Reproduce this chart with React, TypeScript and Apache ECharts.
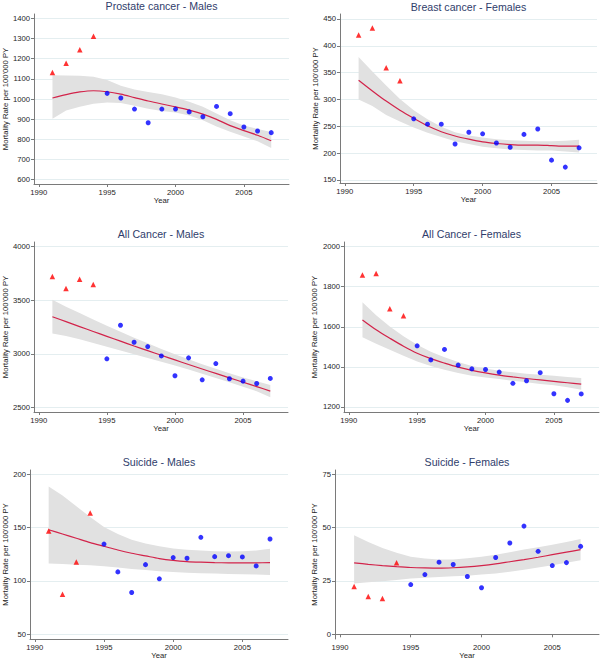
import React, { useEffect, useRef } from "react";
import * as echarts from "echarts";

const years = [1991, 1992, 1993, 1994, 1995, 1996, 1997, 1998, 1999, 2000, 2001, 2002, 2003, 2004, 2005, 2006, 2007];
const xTicks = [1990, 1995, 2000, 2005];

// Prostate cancer - Males
const prostateObs = [1131, 1177, 1245, 1312, 1028, 1005, 950, 882, 950, 950, 936, 912, 963, 927, 861, 841, 833];
const prostateFit = [1005, 1022, 1035, 1041, 1036, 1024, 1007, 990, 975, 961, 945, 925, 899, 868, 843, 820, 793];
const prostateHi = [1118, 1117, 1116, 1111, 1094, 1066, 1047, 1035, 1023, 1008, 986, 961, 928, 895, 869, 851, 836];
const prostateLo = [902, 943, 962, 976, 983, 980, 967, 951, 940, 933, 918, 894, 864, 838, 814, 790, 757];
const prostateTicks = [600, 700, 800, 900, 1000, 1100, 1200, 1300, 1400];

// Breast cancer - Females
const breastObs = [420, 433, 359, 335, 264, 254, 254, 217, 239, 236, 219, 211, 235, 245, 187, 174, 210];
const breastFit = [336, 316, 297, 280, 265, 251, 240, 232, 226, 221, 218, 216, 215, 215, 214, 213, 213];
const breastHi = [379, 352, 326, 301, 280, 263, 249, 239, 233, 229, 226, 224, 223, 222, 222, 223, 225];
const breastLo = [300, 288, 271, 259, 248, 238, 230, 222, 217, 212, 209, 207, 206, 205, 205, 203, 201];
const breastTicks = [150, 200, 250, 300, 350, 400, 450];

// All Cancer - Males
const allMObs = [3721, 3610, 3696, 3647, 2953, 3266, 3108, 3067, 2980, 2795, 2962, 2757, 2909, 2767, 2745, 2723, 2770];
const allMFit = [3346, 3300, 3254, 3208, 3163, 3118, 3073, 3029, 2986, 2943, 2900, 2858, 2817, 2776, 2735, 2694, 2652];
const allMHi = [3505, 3440, 3380, 3320, 3262, 3205, 3150, 3098, 3045, 2995, 2948, 2903, 2860, 2818, 2778, 2745, 2710];
const allMLo = [3190, 3165, 3135, 3100, 3065, 3030, 2995, 2960, 2925, 2890, 2853, 2815, 2775, 2735, 2693, 2650, 2595];
const allMTicks = [2500, 3000, 3500, 4000];

// All Cancer - Females
const allFObs = [1858, 1866, 1690, 1655, 1505, 1435, 1487, 1409, 1390, 1387, 1374, 1318, 1331, 1371, 1266, 1233, 1265];
const allFFit = [1634, 1585, 1543, 1503, 1468, 1441, 1419, 1399, 1383, 1370, 1359, 1350, 1342, 1335, 1328, 1321, 1314];
const allFHi = [1723, 1657, 1601, 1553, 1510, 1476, 1448, 1425, 1405, 1392, 1381, 1373, 1366, 1361, 1356, 1350, 1344];
const allFLo = [1548, 1515, 1485, 1455, 1427, 1405, 1386, 1370, 1356, 1347, 1339, 1331, 1323, 1315, 1308, 1298, 1286];
const allFTicks = [1200, 1400, 1600, 1800, 2000];

// Suicide - Males
const suiMObs = [146.8, 87.6, 117.8, 163.6, 134.6, 108.5, 89.2, 115.3, 102, 121.9, 121.3, 140.9, 122.8, 123.7, 122.5, 114.1, 139.3];
const suiMFit = [148, 144, 140, 136, 132.5, 129, 126, 123.5, 121, 119.3, 118.2, 117.6, 117.2, 117, 116.9, 117, 117.2];
const suiMHi = [188.5, 180, 170, 160, 150.5, 144, 138.7, 135, 132.5, 130.5, 129.3, 128.5, 127.8, 127.6, 127.8, 128.5, 130.3];
const suiMLo = [116.3, 116, 115.3, 114.7, 113.8, 112.6, 111.3, 110.2, 109.1, 108.3, 107.6, 107.3, 107, 106.6, 106.3, 106, 105.7];
const suiMTicks = [50, 100, 150, 200];

// Suicide - Females
const suiFObs = [22.4, 17.7, 16.8, 33.5, 23.3, 28, 33.8, 32.7, 27.1, 21.8, 36, 42.8, 50.7, 38.9, 32.2, 33.6, 41.2];
const suiFFit = [33.5, 32.8, 32.2, 31.7, 31.3, 31.1, 31, 31.2, 31.6, 32.2, 33, 34, 35, 36.1, 37.3, 38.5, 39.7];
const suiFHi = [46.4, 43.2, 40.5, 38.2, 36.3, 35.5, 35, 35.1, 35.6, 36.3, 37.3, 38.5, 39.7, 40.8, 42, 43.3, 44.7];
const suiFLo = [23.8, 24.4, 24.9, 25.5, 26.1, 26.5, 26.9, 27.2, 27.5, 28, 28.5, 29.3, 30.3, 31.3, 32.4, 33.5, 34.7];
const suiFTicks = [0, 25, 50, 75];

const FONT = "Liberation Sans, Arial, sans-serif";
const TXT = "#262626";
const AXIS = "#7a7a7a";

const panels = [
  { title: "Prostate cancer - Males", obs: prostateObs, fit: prostateFit, hi: prostateHi, lo: prostateLo, ticks: prostateTicks, yMin: 578, yMax: 1422, box: { left: 34, top: 14, width: 255, height: 170 }, titleY: 6, nameGap: 25 },
  { title: "Breast cancer - Females", obs: breastObs, fit: breastFit, hi: breastHi, lo: breastLo, ticks: breastTicks, yMin: 144.4, yMax: 459.3, box: { left: 340, top: 14, width: 257, height: 169 }, titleY: 6.5, nameGap: 21 },
  { title: "All Cancer - Males", obs: allMObs, fit: allMFit, hi: allMHi, lo: allMLo, ticks: allMTicks, yMin: 2457, yMax: 4043, box: { left: 34, top: 242, width: 254, height: 170 }, titleY: 234, nameGap: 25 },
  { title: "All Cancer - Females", obs: allFObs, fit: allFFit, hi: allFHi, lo: allFLo, ticks: allFTicks, yMin: 1175, yMax: 2023, box: { left: 344, top: 242, width: 255, height: 170 }, titleY: 234, nameGap: 25 },
  { title: "Suicide - Males", obs: suiMObs, fit: suiMFit, hi: suiMHi, lo: suiMLo, ticks: suiMTicks, yMin: 45.6, yMax: 204, box: { left: 30, top: 470, width: 258, height: 169 }, titleY: 461.5, nameGap: 21 },
  { title: "Suicide - Females", obs: suiFObs, fit: suiFFit, hi: suiFHi, lo: suiFLo, ticks: suiFTicks, yMin: -2.2, yMax: 77, box: { left: 335, top: 470, width: 264, height: 169 }, titleY: 461.5, nameGap: 16 },
];

const fmt = (v: number) => String(v);

export default function App() {
  const ref = useRef<HTMLDivElement>(null);
  useEffect(() => {
    if (!ref.current) return;
    const chart = echarts.init(ref.current, undefined, { renderer: "svg" });
    const grid: any[] = [];
    const xAxis: any[] = [];
    const yAxis: any[] = [];
    const series: any[] = [];
    const graphic: any[] = [];
    panels.forEach((p, i) => {
      grid.push({ ...p.box, containLabel: false });
      xAxis.push({
        type: "value", gridIndex: i, min: 1989.65, max: 2008.3,
        axisLine: { show: true, lineStyle: { color: AXIS, width: 1 } },
        axisTick: { show: true, length: 3, customValues: xTicks, lineStyle: { color: AXIS } },
        axisLabel: { customValues: xTicks, formatter: fmt, fontSize: 7.7, color: TXT, margin: 4, fontFamily: FONT },
        splitLine: { show: false },
        name: "Year", nameLocation: "middle", nameGap: 12,
        nameTextStyle: { fontSize: 7.7, color: TXT, fontFamily: FONT },
      });
      yAxis.push({
        type: "value", gridIndex: i, min: p.yMin, max: p.yMax,
        axisLine: { show: true, lineStyle: { color: AXIS, width: 1 } },
        axisTick: { show: true, length: 3, customValues: p.ticks, lineStyle: { color: AXIS } },
        axisLabel: { customValues: p.ticks, formatter: fmt, fontSize: 7.7, color: TXT, margin: 4, fontFamily: FONT },
        splitLine: { show: true, lineStyle: { color: "#e4eef0", width: 1 } },
        name: "Mortality Rate per 100'000 PY", nameLocation: "middle", nameGap: p.nameGap,
        nameTextStyle: { fontSize: 7.7, color: TXT, fontFamily: FONT },
      });
      series.push({
        type: "custom", xAxisIndex: i, yAxisIndex: i, silent: true, z: 1,
        data: years.map((y, k) => [y, p.lo[k], p.hi[k]]),
        encode: { x: 0, y: [1, 2] },
        renderItem: (params: any, api: any) => {
          if (params.dataIndexInside !== 0) return null;
          const n = params.dataInsideLength;
          const upper: number[][] = [];
          const lower: number[][] = [];
          for (let k = 0; k < n; k++) {
            const x = api.value(0, k);
            upper.push(api.coord([x, api.value(2, k)]));
            lower.push(api.coord([x, api.value(1, k)]));
          }
          return {
            type: "polygon",
            shape: { points: upper.concat(lower.reverse()) },
            style: { fill: "#e1e1e1", stroke: "none" },
          };
        },
      });
      series.push({
        type: "line", xAxisIndex: i, yAxisIndex: i, symbol: "none", smooth: 0.3,
        lineStyle: { color: "#d2234a", width: 1.2 }, data: years.map((y, k) => [y, p.fit[k]]), z: 2,
      });
      series.push({
        type: "scatter", xAxisIndex: i, yAxisIndex: i, symbol: "triangle", symbolSize: 5.5,
        itemStyle: { color: "#ff0000" }, data: years.slice(0, 4).map((y, k) => [y, p.obs[k]]), z: 3,
      });
      series.push({
        type: "scatter", xAxisIndex: i, yAxisIndex: i, symbol: "circle", symbolSize: 5,
        itemStyle: { color: "#0000ff" }, data: years.slice(4).map((y, k) => [y, p.obs[k + 4]]), z: 3,
      });
      graphic.push({
        type: "text", x: p.box.left + p.box.width / 2, y: p.titleY,
        style: { text: p.title, fill: "#2f3d6b", font: `10.6px ${FONT}`, textAlign: "center", textVerticalAlign: "middle" },
      });
    });
    chart.setOption({ animation: false, backgroundColor: "#ffffff", grid, xAxis, yAxis, series, graphic });
    return () => chart.dispose();
  }, []);
  return <div ref={ref} style={{ position: "fixed", left: 0, top: 0, width: 600, height: 661 }} />;
}
